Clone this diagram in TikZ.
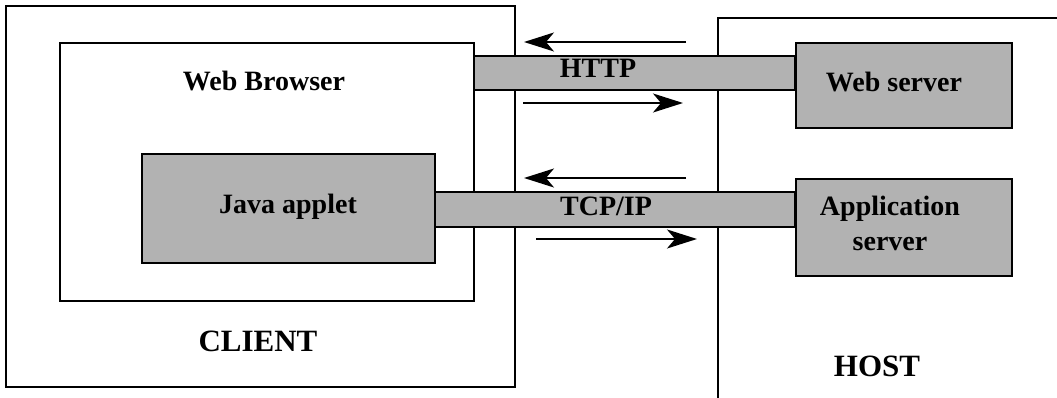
\documentclass[tikz,border=0pt]{standalone}
\usepackage{fontspec}
\setmainfont{Liberation Serif}
\usetikzlibrary{arrows.meta}
\definecolor{boxgray}{gray}{0.70}
\begin{document}
\begin{tikzpicture}[x=1pt,y=-1pt,
  frame/.style={draw, line width=1.6pt, fill=white, inner sep=0pt, outer sep=0pt, anchor=north west},
  block/.style={draw, line width=1.8pt, fill=boxgray, inner sep=0pt, outer sep=0pt, anchor=north west},
  lbl/.style={font=\fontsize{28}{32}\selectfont\bfseries, anchor=base, inner sep=0pt},
  big/.style={font=\fontsize{31}{34}\selectfont\bfseries, anchor=base, inner sep=0pt},
  flow/.style={line width=1.6pt, -{Stealth[length=30pt,width=19pt,inset=8pt]}}]
\useasboundingbox (0,0) rectangle (1057,398);

% client side frames
\node[frame, minimum width=509pt, minimum height=381pt] (client) at (6,6) {};
% host frame, open to the right and bottom
\coordinate (hostbl) at (718,398);
\coordinate (hosttl) at (718,18);
\coordinate (hosttr) at (1057,18);
\draw[line width=1.6pt] (hostbl) -- (hosttl) -- (hosttr);

\node[frame, minimum width=414pt, minimum height=258pt] (browser) at (60,43) {};
\node[block, minimum width=293pt, minimum height=109pt] (applet) at (142,154) {};

% protocol bars
\node[block, minimum width=321pt, minimum height=34pt] (http) at (474,56) {};
\node[block, minimum width=360pt, minimum height=35pt] (tcp) at (435,192) {};

% server boxes
\node[block, minimum width=216pt, minimum height=85pt] (websrv) at (796,43) {};
\node[block, minimum width=216pt, minimum height=97pt] (appsrv) at (796,179) {};

% labels
\node[lbl] (tbrowser) at (264,91) {Web Browser};
\node[lbl] (tapplet) at (288,214) {Java applet};
\node[lbl] (thttp) at (598,78) {HTTP};
\node[lbl] (ttcp) at (606,215) {TCP/IP};
\node[lbl] (twebsrv) at (894,92) {Web server};
\node[lbl] (tapp1) at (890,215) {Application};
\node[lbl] (tapp2) at (890,250) {server};
\node[big] (tclient) at (258,351) {CLIENT};
\node[big] (thost) at (877,376) {HOST};

% request / response arrows
\coordinate (a1s) at (686,42);  \coordinate (a1e) at (524,42);
\coordinate (a2s) at (523,103); \coordinate (a2e) at (683,103);
\coordinate (a3s) at (686,178); \coordinate (a3e) at (524,178);
\coordinate (a4s) at (536,239); \coordinate (a4e) at (697,239);
\draw[flow] (a1s) -- (a1e);
\draw[flow] (a2s) -- (a2e);
\draw[flow] (a3s) -- (a3e);
\draw[flow] (a4s) -- (a4e);
\end{tikzpicture}
\end{document}
